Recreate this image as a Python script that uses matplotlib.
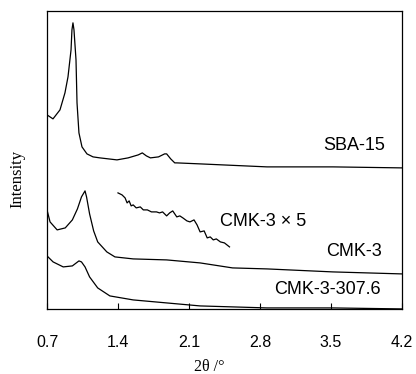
import matplotlib
matplotlib.use("Agg")
from matplotlib import pyplot as plt

# 2theta / intensity values (arbitrary units)
sba_x = [0.70, 0.759, 0.828, 0.877, 0.907, 0.937, 0.946, 0.956, 0.966, 0.986, 0.996, 1.015,
         1.045, 1.094, 1.154, 1.222, 1.39, 1.50, 1.60, 1.64, 1.68, 1.72, 1.80, 1.86,
         1.88, 1.92, 1.96, 1.98, 2.21, 2.87, 3.52, 4.2]
sba_y = [194, 190, 199, 216, 232, 259, 279, 286, 279, 249, 206, 176,
         162, 155, 152, 151, 149, 151, 154, 156, 153, 151, 152, 155,
         155, 150, 146, 146, 145, 142, 142, 141]

cmk_x = [0.70, 0.73, 0.80, 0.88, 0.95, 1.00, 1.04, 1.075, 1.09, 1.12, 1.16, 1.20, 1.29, 1.37,
         1.55, 1.88, 2.21, 2.53, 2.87, 3.52, 4.2]
cmk_y = [99, 87, 79, 81, 89, 100, 112, 118, 112, 95, 78, 67, 57, 52,
         50, 49, 46, 41, 40, 37, 35]

cmk307_x = [0.70, 0.76, 0.86, 0.95, 1.015, 1.04, 1.075, 1.12, 1.20, 1.32, 1.55, 1.88, 2.21,
            2.87, 3.52, 4.2]
cmk307_y = [53, 47, 42, 43, 48, 47, 42, 32, 21, 13, 9, 6, 3, 1, 1, 0]

cmk5_x = [1.40, 1.44, 1.47, 1.49, 1.51, 1.53, 1.55, 1.58, 1.62, 1.65, 1.69, 1.73, 1.78,
          1.81, 1.84, 1.88, 1.91, 1.94, 1.98, 2.01, 2.04, 2.08, 2.11, 2.15, 2.18,
          2.21, 2.25, 2.28, 2.31, 2.34, 2.37, 2.41, 2.45, 2.50]
cmk5_y = [116, 114, 111, 106, 108, 103, 104, 101, 102, 99, 99, 97, 97,
          96, 97, 93, 96, 98, 92, 93, 91, 88, 87, 89, 84,
          77, 78, 71, 72, 69, 70, 67, 66, 62]

plt.rcParams['font.family'] = ['Liberation Sans', 'DejaVu Sans']

fig = plt.figure(figsize=(4.16, 3.74), dpi=100)
ax = fig.add_axes([0.113, 0.174, 0.853, 0.797])

for xs, ys in [(sba_x, sba_y), (cmk_x, cmk_y), (cmk307_x, cmk307_y), (cmk5_x, cmk5_y)]:
    ax.plot(xs, ys, c='k', lw=0.9)

ax.text(4.03, 163, 'SBA-15', ha='right', va='center', fontsize=13)
ax.text(2.41, 87, 'CMK-3 \u00d7 5', ha='left', va='center', fontsize=13)
ax.text(4.0, 57, 'CMK-3', ha='right', va='center', fontsize=13)
ax.text(3.99, 19, 'CMK-3-307.6', ha='right', va='center', fontsize=13)

ax.set_xlim(0.7, 4.2)
ax.set_ylim(0, 298)
ax.set_xticks([0.7, 1.4, 2.1, 2.8, 3.5, 4.2])
ax.set_xticklabels(['0.7', '1.4', '2.1', '2.8', '3.5', '4.2'])
ax.set_yticks([])
ax.tick_params(axis='x', direction='in', length=4, labelsize=11.5, pad=19)
for s in ax.spines.values():
    s.set_linewidth(0.9)

ax.set_xlabel('2\u03b8 /\u00b0', family=['Liberation Serif', 'DejaVu Serif'], fontsize=11.5)
ax.set_ylabel('Intensity', family=['Liberation Serif', 'DejaVu Serif'], fontsize=12)
ax.xaxis.set_label_coords(0.456, -0.168)
ax.yaxis.set_label_coords(-0.062, 0.436)

fig.savefig('out.png', dpi=100)
